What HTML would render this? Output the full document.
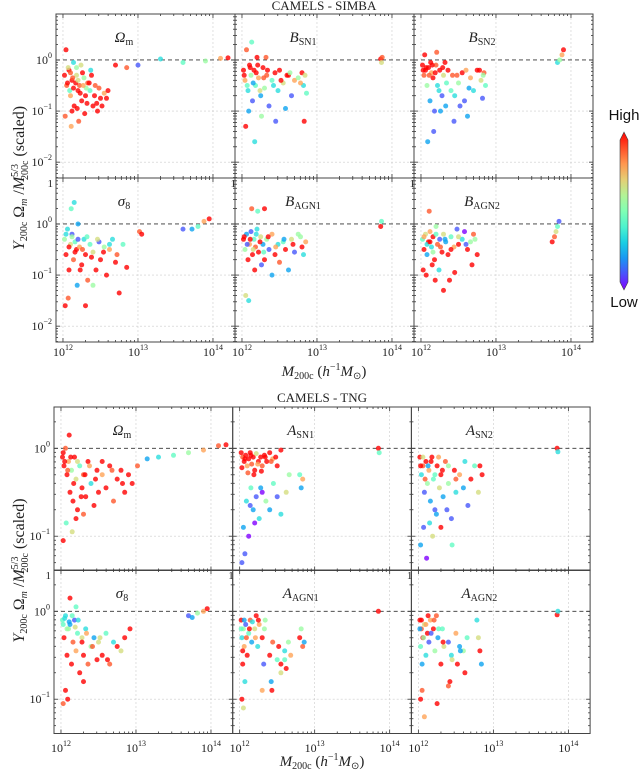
<!DOCTYPE html>
<html><head><meta charset="utf-8"><style>
html,body{margin:0;padding:0;background:#fff;}
svg{display:block;font-family:"Liberation Serif",serif;}
</style></head><body>
<svg id="chart" width="640" height="772" viewBox="0 0 640 772" xmlns="http://www.w3.org/2000/svg">
<g id="root"></g>
</svg>
<script>
// ---- data: log10 M200c, log10 Y (scaled), colour level 0..9 ----
const s_om_m=[12.02,12.05,12.08,12.1,12.12,12.15,12.18,12.2,12.22,12.25,12.28,12.3,12.33,12.36,12.4,12.43,12.46,12.5,12.55,12.6,12.03,12.07,12.11,12.14,12.17,12.21,12.26,12.31,12.38,12.45,12.04,12.09,12.13,12.19,12.24,12.35,12.7,12.85,13.0,13.3,13.6,13.9,14.1,14.2,12.06,12.1,12.14,12.18,12.23,12.27,12.32,12.37,12.42,12.48,12.52,12.58,12.12,12.2,12.29];
const s_om_y=[-0.3,-0.5,-0.2,-0.7,-0.4,-0.9,-0.3,-0.6,-0.5,-0.8,-0.35,-0.7,-0.45,-0.6,-0.9,-0.5,-1.0,-0.75,-0.65,-0.6,-1.1,-0.15,-1.3,-0.05,-0.45,-1.2,-0.25,-0.55,-0.3,-0.85,0.2,-0.6,-0.35,-0.95,-0.1,-0.45,-0.1,-0.15,-0.1,0.02,-0.05,-0.02,0.03,0.04,-0.45,-0.25,-0.55,-0.15,-0.65,-0.5,-0.85,-0.2,-0.7,-0.55,-0.9,-0.75,-1.0,-0.4,-1.05];
const s_om_c=[9,8,9,7,9,9,6,9,8,9,5,9,8,4,9,8,9,9,7,9,8,6,7,3,9,8,9,5,9,9,9,4,8,9,6,9,9,8,1,3,4,5,7,9,9,8,9,5,9,7,9,3,9,8,9,9,9,6,9];

const s_b1_m=[12.02,12.04,12.06,12.08,12.1,12.12,12.14,12.16,12.18,12.2,12.22,12.25,12.28,12.3,12.33,12.36,12.4,12.44,12.48,12.5,12.55,12.58,12.62,12.66,12.7,12.75,12.8,12.82,12.84,12.86,12.05,12.09,12.13,12.17,12.21,12.26,12.32,12.45,12.6,12.83,13.85,13.86,13.87,12.03,12.07,12.11,12.15,12.19,12.24,12.29,12.34,12.42,12.52,12.64,12.78];
const s_b1_y=[-0.2,-0.4,0.2,-0.6,-0.1,-0.3,-0.8,-0.2,-0.5,0.05,-0.35,-0.7,-0.15,-0.55,-0.3,-0.9,-0.4,-0.25,-0.6,-0.2,-0.45,-0.95,-0.3,-0.7,-0.4,-0.35,-0.25,-0.5,-0.3,-0.65,-1.3,-1.0,0.35,-1.6,-0.1,-1.1,0.05,-1.2,-0.3,-1.2,0.02,-0.05,0.05,-0.3,-0.5,-0.15,-0.45,-0.25,-0.6,-0.35,-0.2,-0.5,-0.4,-0.25,-0.45];
const s_b1_c=[9,7,8,3,9,5,1,9,4,9,7,2,9,5,8,1,4,9,3,9,6,2,9,1,7,5,9,3,6,4,9,2,4,3,9,5,8,1,9,9,9,6,8,9,4,9,2,9,6,8,9,3,9,5,7];

const s_b2_m=[12.02,12.04,12.06,12.08,12.1,12.12,12.14,12.16,12.18,12.2,12.22,12.25,12.28,12.3,12.33,12.36,12.4,12.44,12.48,12.5,12.55,12.58,12.62,12.66,12.7,12.75,12.8,12.82,12.84,12.86,12.05,12.09,12.13,12.17,12.21,12.26,12.32,12.45,12.6,12.83,13.82,13.85,13.88,13.9,12.03,12.07,12.11,12.15,12.19,12.24,12.29,12.34,12.42,12.52,12.64,12.78];
const s_b2_y=[-0.1,-0.3,-0.2,-0.5,-0.15,-0.8,-0.25,-0.35,-1.0,-0.1,-0.5,-0.2,-0.7,-0.3,-0.9,-0.2,-0.6,-1.2,-0.3,-0.45,-0.25,-0.8,-1.1,-0.35,-0.6,-0.2,-0.4,-0.75,-0.25,-0.5,0.1,-1.6,-0.05,-1.4,0.15,-1.0,-0.05,-0.7,-0.2,-0.3,-0.05,0.0,0.1,0.2,-0.2,-0.15,-0.3,-0.1,-0.25,-0.6,-0.15,-0.45,-0.3,-0.9,-0.55,-0.2];
const s_b2_c=[9,8,9,5,9,2,7,9,1,8,3,9,1,6,2,9,4,1,8,5,9,1,2,7,3,9,6,1,8,4,9,2,9,1,8,2,9,3,7,5,3,5,7,9,9,9,8,9,9,3,9,4,8,1,2,9];

const s_s8_m=[12.02,12.04,12.06,12.08,12.1,12.12,12.14,12.16,12.18,12.2,12.22,12.25,12.28,12.3,12.33,12.36,12.4,12.44,12.48,12.5,12.55,12.58,12.62,12.66,12.7,12.75,12.8,12.85,12.03,12.07,12.11,12.15,12.19,12.23,12.3,12.4,13.02,13.05,13.6,13.72,13.8,13.88,13.95,12.04,12.08,12.12,12.16,12.2,12.26,12.32,12.38,12.46,12.54,12.62,12.72];
const s_s8_y=[-0.3,-0.6,-0.1,-0.9,-0.4,-0.2,-0.7,-0.35,-0.5,0.0,-0.45,-0.8,-0.3,-0.6,-1.1,-0.4,-0.55,-0.9,-0.35,-0.7,-0.45,-1.0,-0.5,-0.3,-0.75,-1.35,-0.4,-0.85,-1.6,-1.45,0.3,0.42,-1.2,-0.9,-1.6,-1.2,-0.15,-0.2,-0.1,-0.1,-0.05,0.05,0.1,-0.2,-0.45,-0.25,-0.55,-0.3,-0.5,-0.25,-0.65,-0.3,-0.55,-0.4,-0.6];
const s_s8_c=[5,9,3,9,6,1,8,4,9,2,7,9,3,9,8,4,6,9,1,9,5,9,7,3,9,9,4,9,9,8,4,3,2,9,9,5,8,9,1,2,4,7,9,3,9,5,9,1,8,4,9,6,9,3,8];

const s_a1_m=[12.02,12.04,12.06,12.08,12.1,12.12,12.14,12.16,12.18,12.2,12.22,12.25,12.28,12.3,12.33,12.36,12.4,12.44,12.48,12.5,12.55,12.58,12.62,12.66,12.7,12.75,12.8,12.82,12.85,12.05,12.09,12.13,12.17,12.21,12.26,12.3,12.4,13.85,13.86,12.03,12.07,12.11,12.15,12.19,12.24,12.29,12.35,12.45,12.56,12.68,12.78];
const s_a1_y=[-0.3,-0.5,-0.2,-0.7,-0.4,-0.15,-0.6,-0.3,-0.45,-0.1,-0.55,-0.25,-0.4,-0.7,-0.3,-0.5,-0.2,-0.6,-0.4,-0.75,-0.35,-0.5,-0.9,-0.3,-0.55,-0.2,-0.45,-0.6,-0.35,-1.4,-1.5,0.3,-0.9,0.25,-0.8,0.3,-1.0,-0.05,0.05,-0.25,-0.4,-0.3,-0.5,-0.2,-0.35,-0.55,-0.25,-0.45,-0.3,-0.4,-0.25];
const s_a1_c=[9,5,2,9,7,1,9,4,8,3,9,6,2,9,5,1,7,9,3,8,4,9,2,6,1,5,9,3,7,6,3,8,9,4,1,9,2,9,4,9,1,9,6,3,9,4,9,7,2,9,5];

const s_a2_m=[12.02,12.04,12.06,12.08,12.1,12.12,12.14,12.16,12.18,12.2,12.22,12.25,12.28,12.3,12.33,12.36,12.4,12.44,12.48,12.5,12.55,12.58,12.62,12.66,12.7,12.75,12.03,12.07,12.11,12.15,12.19,12.24,12.3,12.38,12.45,12.68,13.75,13.78,13.8,13.82,13.84,12.04,12.08,12.12,12.16,12.2,12.26,12.32,12.4,12.5,12.6,12.72];
const s_a2_y=[-0.3,-0.5,-0.2,-0.6,-0.35,-0.15,-0.45,-0.25,-0.7,-0.05,-0.4,-0.3,-0.55,-0.2,-0.35,-0.6,-0.25,-0.45,-0.1,-0.4,-0.3,-0.15,-0.5,-0.35,-0.2,-0.6,-0.9,-1.0,0.25,-0.8,-1.1,-0.9,-1.3,-1.1,-0.95,-0.8,-0.35,-0.25,-0.15,-0.05,0.05,-0.25,-0.4,-0.35,-0.55,-0.2,-0.45,-0.3,-0.5,-0.25,-0.4,-0.3];
const s_a2_c=[4,9,6,2,9,7,3,9,9,5,8,1,9,6,2,9,4,7,1,9,3,0,9,5,8,9,9,9,8,9,9,3,9,9,9,9,9,8,6,4,1,7,3,9,5,4,8,2,9,6,1,5];

const t_om_m=[12.02,12.04,12.06,12.08,12.1,12.12,12.14,12.16,12.18,12.2,12.22,12.25,12.28,12.3,12.33,12.36,12.4,12.44,12.48,12.5,12.55,12.6,12.65,12.7,12.75,12.8,12.85,12.9,12.95,12.03,12.07,12.11,12.15,12.2,12.3,13.02,13.15,13.3,13.5,13.7,13.9,14.1,14.2,12.03,12.05,12.09,12.13,12.17,12.22,12.27,12.32,12.38,12.46,12.55,12.68,12.82];
const t_om_y=[-0.1,-0.2,0.0,-0.3,-0.15,-0.5,-0.25,-0.6,-0.1,-0.35,-0.7,-0.2,-0.45,-0.3,-0.55,-0.15,-0.4,-0.65,-0.25,-0.5,-0.3,-0.45,-0.2,-0.6,-0.35,-0.25,-0.5,-0.3,-0.4,-1.05,-0.85,0.15,-0.95,-0.8,-0.75,-0.2,-0.12,-0.1,-0.08,-0.05,-0.02,0.03,0.04,-0.05,-0.15,-0.25,-0.1,-0.4,-0.15,-0.55,-0.3,-0.2,-0.35,-0.15,-0.25,-0.4];
const t_om_c=[9,9,8,9,7,9,5,9,9,6,9,4,9,8,9,9,3,9,9,9,7,9,9,8,9,9,9,9,9,9,4,9,6,9,8,8,2,3,4,5,7,8,9,9,9,8,9,9,6,9,9,7,9,9,8,9];

const t_s1_m=[12.02,12.04,12.06,12.08,12.1,12.12,12.14,12.16,12.18,12.2,12.22,12.25,12.28,12.3,12.33,12.36,12.4,12.44,12.48,12.5,12.55,12.03,12.05,12.07,12.09,12.12,12.15,12.18,12.22,12.26,12.3,12.35,12.4,12.45,12.5,12.55,12.62,12.66,12.8,12.82,12.84,13.85,13.86,12.03,12.07,12.11,12.15,12.19,12.24,12.29,12.34,12.42,12.14,12.2,12.28];
const t_s1_y=[-0.05,-0.1,-0.15,-0.08,-0.2,-0.12,-0.05,-0.18,-0.1,-0.25,-0.06,-0.15,-0.1,-0.2,-0.08,-0.15,-0.05,-0.12,-0.1,-0.2,-0.02,-1.3,-0.9,-1.2,-0.6,-1.0,-0.45,-0.7,-0.55,-0.8,-0.5,-0.6,-0.7,-0.4,-0.55,-0.75,-0.5,-0.3,-0.3,-0.45,-0.35,0.0,-0.05,-0.22,-0.12,-0.28,-0.08,-0.3,-0.18,-0.26,-0.1,-0.15,-0.65,-0.85,-0.45];
const t_s1_c=[9,8,9,9,7,9,9,8,9,9,6,9,9,8,9,9,9,7,9,9,9,1,2,1,3,0,4,2,1,3,0,5,2,4,1,3,6,5,4,2,7,9,4,9,9,8,9,9,7,9,9,8,1,0,2];

const t_s2_m=[12.02,12.04,12.06,12.08,12.1,12.12,12.14,12.16,12.18,12.2,12.22,12.25,12.28,12.3,12.33,12.36,12.4,12.44,12.48,12.5,12.55,12.6,12.66,12.7,12.75,12.8,12.85,12.03,12.07,12.11,12.15,12.19,12.24,12.3,12.38,12.45,13.85,13.86,12.03,12.06,12.09,12.13,12.17,12.22,12.27,12.32,12.4,12.5,12.62,12.82];
const t_s2_y=[-0.1,-0.3,-0.2,-0.5,-0.15,-0.4,-0.25,-0.6,-0.1,-0.35,-0.7,-0.2,-0.45,-0.3,-0.55,-0.15,-0.4,-0.8,-0.25,-0.5,-0.3,-0.45,-0.65,-0.35,-0.2,-0.5,-0.3,-1.1,-0.9,-1.25,-0.85,-1.0,-0.75,-0.9,-0.7,-1.1,0.0,-0.04,-0.2,-0.1,-0.35,-0.2,-0.15,-0.3,-0.1,-0.25,-0.2,-0.35,-0.15,-0.2];
const t_s2_c=[9,3,8,1,9,5,7,2,9,4,1,9,6,9,2,8,5,1,9,3,7,2,1,9,4,6,9,2,1,0,3,6,2,9,1,4,9,3,9,6,8,2,9,4,7,9,5,8,3,9];

const t_s8_m=[12.02,12.04,12.06,12.08,12.1,12.12,12.14,12.16,12.18,12.2,12.22,12.25,12.28,12.3,12.33,12.36,12.4,12.44,12.48,12.5,12.55,12.6,12.65,12.7,12.75,12.8,12.85,12.92,12.03,12.06,12.09,12.12,12.2,12.3,13.7,13.75,13.82,13.9,13.95,12.03,12.05,12.08,12.11,12.15,12.19,12.23,12.28,12.34,12.42,12.52,12.62];
const t_s8_y=[-0.1,-0.3,-0.05,-0.5,-0.2,-0.15,-0.6,-0.35,-0.1,-0.45,-0.25,-0.7,-0.3,-0.5,-0.2,-0.6,-0.4,-0.3,-0.55,-0.35,-0.5,-0.25,-0.6,-0.35,-0.4,-0.45,-0.3,-0.2,-1.05,-0.9,-1.0,0.15,0.05,-0.8,-0.05,-0.07,-0.02,0.0,0.03,-0.15,-0.08,-0.2,-0.12,-0.05,-0.18,-0.1,-0.35,-0.25,-0.4,-0.3,-0.55];
const t_s8_c=[4,9,3,9,5,2,9,8,1,7,4,9,6,9,3,8,5,2,9,6,9,4,8,3,9,6,9,9,8,9,9,9,4,9,1,2,5,7,9,4,3,5,2,4,6,3,9,7,8,6,9];

const t_a1_m=[12.02,12.03,12.04,12.05,12.06,12.08,12.1,12.12,12.14,12.16,12.2,12.22,12.24,12.26,12.3,12.32,12.34,12.4,12.42,12.44,12.5,12.52,12.55,12.6,12.62,12.65,12.68,12.8,12.82,12.84,12.86,12.03,12.05,12.07,12.3,12.43,13.85,12.02,12.04,12.06,12.09,12.13,12.17,12.21,12.25,12.33,12.55,12.6];
const t_a1_y=[-0.1,-0.3,-0.6,-0.2,-0.4,-0.15,-0.5,-0.25,-0.1,-0.35,-0.2,-0.05,-0.4,-0.15,-0.3,-0.6,-0.1,-0.5,-0.8,-0.35,-0.55,-0.4,-0.7,-0.45,-0.65,-0.35,-0.5,-0.3,-0.2,-0.4,-0.35,-1.0,-1.1,-0.8,-0.9,-0.9,0.0,-0.2,-0.45,-0.1,-0.3,-0.2,-0.12,-0.3,-0.1,-0.2,-0.6,-0.55];
const t_a1_c=[9,3,9,5,7,1,9,4,8,2,6,9,3,7,9,1,5,9,2,8,4,9,6,3,9,5,7,9,5,8,2,9,6,3,7,9,9,4,9,2,8,9,3,7,9,5,9,4];

const t_a2_m=[12.02,12.03,12.04,12.05,12.06,12.08,12.1,12.12,12.14,12.16,12.2,12.22,12.24,12.26,12.3,12.32,12.34,12.4,12.42,12.44,12.5,12.52,12.55,12.6,12.62,12.65,12.78,12.8,12.82,12.84,12.03,12.05,12.08,12.25,12.4,13.85,13.86,12.02,12.04,12.07,12.1,12.13,12.17,12.21,12.27,12.33,12.45,12.56];
const t_a2_y=[-0.1,-0.4,-0.2,-0.6,-0.3,-0.15,-0.5,-0.25,-0.35,-0.1,-0.2,-0.45,-0.05,-0.3,-0.6,-0.2,-0.4,-0.35,-0.8,-0.5,-0.25,-0.6,-0.4,-0.45,-0.7,-0.3,-0.1,-0.3,-0.45,-0.6,-1.0,-0.9,-1.2,-1.05,-0.85,-0.04,0.0,-0.2,-0.1,-0.3,-0.15,-0.05,-0.25,-0.1,-0.2,-0.35,-0.55,-0.45];
const t_a2_c=[9,4,8,2,9,6,3,9,1,7,9,5,8,2,9,4,6,1,9,3,7,9,2,5,9,4,3,6,9,2,9,8,7,9,8,9,3,2,9,5,7,9,1,8,4,9,6,2];

const xTickExps=[12,13,14];
const simbaYTickExps=[0,-1,-2];
const tngYTickExps=[0,-1];

// ---- layout ----
const NS="http://www.w3.org/2000/svg";
const root=document.getElementById('root');
function el(tag,attrs,parent){const e=document.createElementNS(NS,tag);for(const k in attrs)e.setAttribute(k,attrs[k]);(parent||root).appendChild(e);return e;}
function rainbow(x){const cl=v=>Math.max(0,Math.min(1,v));const r=cl(Math.abs(2*x-0.5)),g=cl(Math.sin(Math.PI*x)),b=cl(Math.cos(Math.PI*x/2));return `rgb(${Math.round(r*255)},${Math.round(g*255)},${Math.round(b*255)})`;}

const blocks=[
 {name:'simba',title:'CAMELS - SIMBA',titleY:10,left:56,pw:179,tops:[14,178],ph:164,ymax:0.9,ymin:-2.31,yticks:simbaYTickExps,xlabY:352,axY:376,
  panels:[['Ω','m',s_om_m,s_om_y,s_om_c,'omega-m'],['B','SN1',s_b1_m,s_b1_y,s_b1_c,'b-sn1'],['B','SN2',s_b2_m,s_b2_y,s_b2_c,'b-sn2'],
          ['σ','8',s_s8_m,s_s8_y,s_s8_c,'sigma-8'],['B','AGN1',s_a1_m,s_a1_y,s_a1_c,'b-agn1'],['B','AGN2',s_a2_m,s_a2_y,s_a2_c,'b-agn2']]},
 {name:'tng',title:'CAMELS - TNG',titleY:402,left:54,pw:178.7,tops:[407,570],ph:163.5,ymax:0.47,ymin:-1.39,yticks:tngYTickExps,xlabY:748,axY:766,
  panels:[['Ω','m',t_om_m,t_om_y,t_om_c,'omega-m'],['A','SN1',t_s1_m,t_s1_y,t_s1_c,'a-sn1'],['A','SN2',t_s2_m,t_s2_y,t_s2_c,'a-sn2'],
          ['σ','8',t_s8_m,t_s8_y,t_s8_c,'sigma-8'],['A','AGN1',t_a1_m,t_a1_y,t_a1_c,'a-agn1'],['A','AGN2',t_a2_m,t_a2_y,t_a2_c,'a-agn2']]}
];
const XMIN=11.907, XPX=75;

blocks.forEach(B=>{
  const g=el('g',{});
  
  
  const t=el('text',{x:B.left+268,y:B.titleY,'text-anchor':'middle','font-size':13,fill:'#222'},g);
  t.textContent=B.title;
  
  
  B.panels.forEach((P,i)=>{
    const col=i%3,row=Math.floor(i/3);
    const L=B.left+col*B.pw, T=B.tops[row], W=B.pw, H=B.ph;
    const xs=m=>L+(m-XMIN)*XPX;
    const ys=v=>T+(B.ymax-v)/(B.ymax-B.ymin)*H;
    const pg=el('g',{},g);
    
    
    xTickExps.forEach(e=>{const x=xs(e);if(x>L&&x<L+W)el('line',{x1:x,x2:x,y1:T,y2:T+H,stroke:'#ccc','stroke-width':0.6,'stroke-dasharray':'2,2'},pg);});
    for(let e=Math.ceil(B.ymin);e<=Math.floor(B.ymax);e++){const y=ys(e);if(e!==0)el('line',{x1:L,x2:L+W,y1:y,y2:y,stroke:'#ccc','stroke-width':0.6,'stroke-dasharray':'2,2'},pg);}
    const ref=el('line',{x1:L,x2:L+W,y1:ys(0),y2:ys(0),stroke:'#333','stroke-width':0.9,'stroke-dasharray':'4,3'},pg);
    
    
    const M=P[2],Y=P[3],C=P[4];
    for(let k=0;k<M.length;k++){
      const c=el('circle',{cx:xs(M[k]).toFixed(1),cy:ys(Y[k]).toFixed(1),r:2.5,fill:rainbow(C[k]/9),'fill-opacity':0.8},pg);
      
      
    }
    const tk=el('g',{stroke:'#333','stroke-width':0.8},pg);
    for(let e=12;e<=14;e++){for(let s=1;s<10;s++){const x=xs(e+Math.log10(s));if(x<L||x>L+W)continue;const len=s===1?4:2;
      el('line',{x1:x,x2:x,y1:T,y2:T+len},tk);el('line',{x1:x,x2:x,y1:T+H,y2:T+H-len},tk);}}
    for(let e=-3;e<=1;e++){for(let s=1;s<10;s++){const y=ys(e+Math.log10(s));if(y<T||y>T+H)continue;const len=s===1?4:2;
      el('line',{x1:L,x2:L+len,y1:y,y2:y},tk);el('line',{x1:L+W,x2:L+W-len,y1:y,y2:y},tk);}}
    el('rect',{x:L,y:T,width:W,height:H,fill:'none',stroke:'#444','stroke-width':1},pg);
    const lb=el('text',{x:L+68,y:T+28,'text-anchor':'middle','font-size':15,'font-style':'italic',fill:'#222'},pg);
    lb.innerHTML=P[0]+'<tspan font-size="10" dy="3" font-style="normal">'+P[1]+'</tspan>';
    
    
    if(col===0){
      B.yticks.forEach(e=>{const y=ys(e);const tl=el('text',{x:L-4,y:y+4,'text-anchor':'end','font-size':12,fill:'#222'},pg);
        tl.innerHTML='10<tspan font-size="8" dy="-6">'+(e===0?'0':'−'+(-e))+'</tspan>';
        
        });
      if(row===1){const o=el('text',{x:L-3,y:T+9,'text-anchor':'end','font-size':11,fill:'#222'},pg);o.textContent='1';}
    }
    if(row===1&&col>0){const o=el('text',{x:L+1,y:T+9,'text-anchor':'end','font-size':11,fill:'#222'},pg);o.textContent='1';}
    if(row===1){
      xTickExps.forEach(e=>{const x=xs(e);const tl=el('text',{x:x,y:B.xlabY+4,'text-anchor':'middle','font-size':12,fill:'#222'},pg);
        tl.innerHTML='10<tspan font-size="8" dy="-6">'+e+'</tspan>';
        
        });
    }
  });
  const xt=el('text',{x:B.left+268,y:B.axY,'text-anchor':'middle','font-size':15,fill:'#222'},g);
  xt.innerHTML='<tspan font-style="italic">M</tspan><tspan font-size="10" dy="3">200c</tspan><tspan dy="-3"> (</tspan><tspan font-style="italic">h</tspan><tspan font-size="10" dy="-6">−1</tspan><tspan dy="6" font-style="italic">M</tspan><tspan font-size="10" dy="3">⊙</tspan><tspan dy="-3">)</tspan>';
  
  
  const cy=B.tops[0]+B.ph;
  const yt=el('text',{x:0,y:0,'text-anchor':'middle','font-size':16,fill:'#222',transform:`translate(24,${cy}) rotate(-90)`},g);
  yt.innerHTML='<tspan font-style="italic">Y</tspan><tspan font-size="10" dy="3">200c</tspan><tspan dy="-3"> Ω</tspan><tspan font-size="10" dy="3" font-style="italic">m</tspan><tspan dy="-3"> /</tspan><tspan font-style="italic">M</tspan><tspan font-size="10" dy="-6">5/3</tspan><tspan font-size="10" dx="-16" dy="10">200c</tspan><tspan dy="-4"> (scaled)</tspan>';
  
  
});

const cb=el('g',{});


const defs=el('defs',{},cb);
const lg=el('linearGradient',{id:'rb',x1:0,y1:1,x2:0,y2:0},defs);
for(let i=0;i<=10;i++)el('stop',{offset:i/10,'stop-color':rainbow(i/10)},lg);
el('polygon',{points:'620,140 624,132 628,140 628,282 624,290 620,282',fill:'url(#rb)',stroke:'#444','stroke-width':0.6},cb);
const hi=el('text',{x:624,y:120,'text-anchor':'middle','font-size':15,'font-family':'Liberation Sans, sans-serif',fill:'#111'},cb);
hi.textContent='High';


const lo=el('text',{x:624,y:307,'text-anchor':'middle','font-size':15,'font-family':'Liberation Sans, sans-serif',fill:'#111'},cb);
lo.textContent='Low';


</script>
</body></html>
